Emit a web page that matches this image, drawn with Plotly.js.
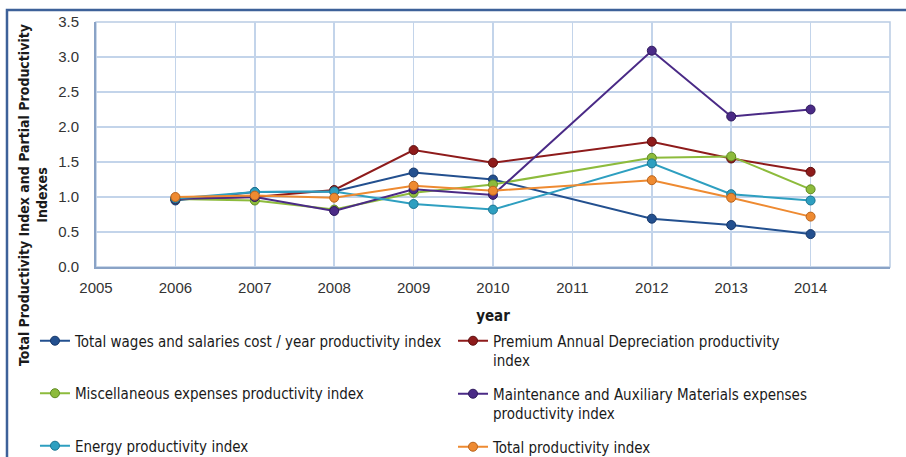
<!DOCTYPE html>
<html>
<head>
<meta charset="utf-8">
<script src="https://cdn.plot.ly/plotly-3.0.1.min.js"></script>
<style>
  html, body { margin: 0; padding: 0; background: #ffffff; }
  #chart { width: 906px; height: 457px; }
</style>
</head>
<body>
<div id="chart"></div>
<script>
// ---- data ----
const years = [2006, 2007, 2008, 2009, 2010, 2012, 2013, 2014];

const wagesIndex       = [0.95, 1.07, 1.08, 1.35, 1.25, 0.69, 0.60, 0.47];
const depreciationIdx  = [0.97, 1.00, 1.10, 1.67, 1.49, 1.79, 1.55, 1.36];
const miscIndex        = [0.97, 0.95, 0.82, 1.06, 1.18, 1.56, 1.58, 1.11];
const maintenanceIndex = [0.97, 1.00, 0.80, 1.11, 1.03, 3.09, 2.15, 2.25];
const energyIndex      = [0.98, 1.07, 1.08, 0.90, 0.82, 1.48, 1.04, 0.95];
const totalIndex       = [1.00, 1.02, 0.99, 1.16, 1.09, 1.24, 0.99, 0.72];

const seriesNames = [
  "Total wages and salaries cost / year productivity index",
  "Premium Annual Depreciation productivity<br>index",
  "Miscellaneous expenses productivity index",
  "Maintenance and Auxiliary Materials expenses<br>productivity index",
  "Energy productivity index",
  "Total productivity index"
];
const yTickVals = [0, 0.5, 1, 1.5, 2, 2.5, 3, 3.5];
const xTickVals = [2005, 2006, 2007, 2008, 2009, 2010, 2011, 2012, 2013, 2014, 2015];

// ---- styling ----
const FONT = "'Liberation Sans Narrow', 'Arial Narrow', 'DejaVu Sans Condensed', 'Liberation Sans', sans-serif";
const colors  = ["#23508f", "#8e1b1b", "#8dbb3c", "#4a2a86", "#2e9fc0", "#ee8a31"];
const edges   = ["#17386a", "#5e1010", "#5f8a22", "#2f1a5c", "#1b7592", "#b9631c"];
const values  = [wagesIndex, depreciationIdx, miscIndex, maintenanceIndex, energyIndex, totalIndex];
const legendOf = ["legend", "legend2", "legend", "legend2", "legend", "legend2"];

const traces = values.map((v, i) => ({
  type: "scatter",
  mode: "lines+markers",
  x: years,
  y: v,
  name: seriesNames[i],
  legend: legendOf[i],
  legendgroup: "g" + i,
  line: { color: colors[i], width: 2 },
  marker: { color: colors[i], size: 9, line: { color: edges[i], width: 1 } }
}));

const legendCommon = {
  orientation: "v",
  xref: "container",
  yref: "container",
  xanchor: "left",
  yanchor: "top",
  valign: "top",
  bgcolor: "rgba(0,0,0,0)",
  borderwidth: 0,
  itemwidth: 30,
  font: { family: FONT, size: 15, color: "#1a1a1a" }
};

const layout = {
  width: 906,
  height: 457,
  margin: { l: 96, r: 16, t: 22, b: 190, autoexpand: false },
  paper_bgcolor: "#ffffff",
  plot_bgcolor: "#ffffff",
  showlegend: true,
  font: { family: FONT, color: "#404040" },
  xaxis: {
    range: [2005, 2015],
    tickvals: xTickVals,
    ticktext: xTickVals.map(String),
    showgrid: true,
    gridcolor: "#c3d4ea",
    gridwidth: 1.5,
    zeroline: false,
    showline: true,
    linecolor: "#8aa3c6",
    linewidth: 2,
    ticks: "",
    ticklabelstandoff: 6,
    tickfont: { family: "'Liberation Sans', sans-serif", size: 15, color: "#333333" },
    title: { text: "year", font: { family: FONT, size: 15, color: "#1a1a1a", weight: "bold" }, standoff: 15 },
    automargin: false
  },
  yaxis: {
    range: [0, 3.5],
    tickvals: yTickVals,
    ticktext: yTickVals.map(v => v.toFixed(1)),
    showgrid: true,
    gridcolor: "#c3d4ea",
    gridwidth: 1.5,
    zeroline: false,
    showline: true,
    linecolor: "#8aa3c6",
    linewidth: 2,
    ticks: "",
    ticklabelstandoff: 12,
    tickfont: { family: "'Liberation Sans', sans-serif", size: 15, color: "#333333" },
    automargin: false
  },
  legend: Object.assign({}, legendCommon, { x: 0.0386, y: 0.290, tracegroupgap: 30 }),
  legend2: Object.assign({}, legendCommon, { x: 0.500, y: 0.290, tracegroupgap: 11 }),
  shapes: [
    { type: "rect", xref: "paper", yref: "paper", x0: 0, x1: 1, y0: 0, y1: 1,
      line: { color: "#b9cbe3", width: 1.5 }, layer: "below" },
    { type: "rect", xref: "paper", yref: "paper", x0: -0.1121, x1: 1.3, y0: -1.2, y1: 1.049,
      line: { color: "#3d6199", width: 2.5 }, layer: "above" }
  ],
  annotations: [
    {
      xref: "paper", yref: "paper", x: -0.0793, y: 0.294,
      xanchor: "center", yanchor: "middle",
      text: "Total Productivity Index and Partial Productivity<br>Indexes",
      textangle: -90, showarrow: false, align: "center",
      font: { family: FONT, size: 14, color: "#1a1a1a", weight: "bold" }
    }
  ]
};

Plotly.newPlot("chart", traces, layout, { displayModeBar: false, staticPlot: true });
</script>
</body>
</html>
